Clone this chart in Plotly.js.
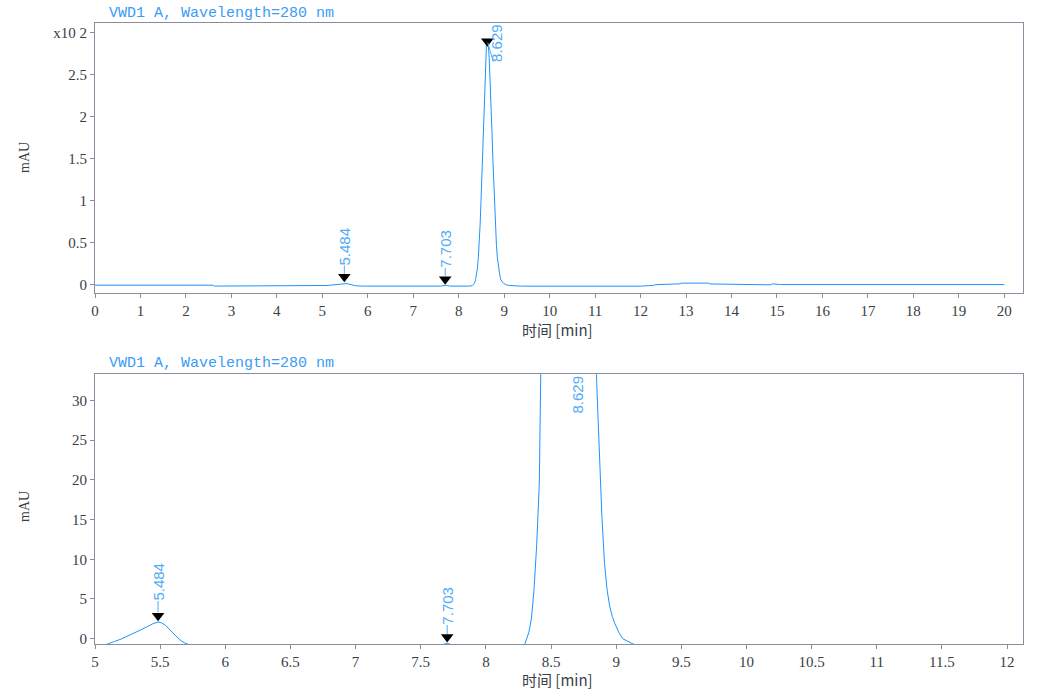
<!DOCTYPE html>
<html>
<head>
<meta charset="utf-8">
<script src="https://cdn.plot.ly/plotly-3.0.1.min.js"></script>
<style>
  html, body { margin: 0; padding: 0; background: #ffffff; }
  #chart { width: 1048px; height: 700px; }
</style>
</head>
<body>
<div id="chart"></div>
<script>
// ---- Data (time in min, signal in mAU) ----
const time = [
  0, 2.6, 2.62,
  4.9, 5.0, 5.05, 5.10, 5.15, 5.20, 5.25, 5.30, 5.35, 5.40, 5.44, 5.484, 5.51, 5.54, 5.57, 5.60, 5.63, 5.66, 5.69, 5.72, 5.76, 5.82, 5.90,
  7.60, 7.65, 7.703, 7.75, 7.80,
  8.25, 8.28, 8.30, 8.33, 8.35, 8.37, 8.39, 8.41, 8.43, 8.45, 8.47, 8.49, 8.51, 8.53, 8.55, 8.57, 8.59, 8.61, 8.629,
  8.65, 8.67, 8.69, 8.71, 8.73, 8.75, 8.77, 8.79, 8.81, 8.83, 8.85, 8.87, 8.89, 8.91, 8.93, 8.95, 8.97, 8.99,
  9.02, 9.05, 9.09, 9.12, 9.16, 9.22, 9.30, 9.36, 9.40,
  12.00, 12.13, 12.15, 12.29, 12.32, 12.57, 12.62, 12.86, 12.90, 13.20, 13.49, 13.53, 14.00, 14.49, 14.52, 14.85, 14.90, 15.04, 15.08, 20.0
];
const signal = [
  -0.2, -0.2, -1.3,
  -1.3, -1.2, -0.95, -0.6, -0.35, -0.05, 0.3, 0.7, 1.1, 1.5, 1.85, 2.1, 2.0, 1.7, 1.25, 0.7, 0.2, -0.25, -0.55, -0.75, -1.0, -1.2, -1.3,
  -1.3, -0.8, -0.6, -0.8, -1.3,
  -1.3, -1.0, -0.6, 0.8, 2.6, 6.3, 11.8, 19.5, 31.4, 48.3, 70.9, 99.2, 132.4, 168.9, 206.1, 240.3, 268.0, 285.8, 292.0,
  286.0, 270.6, 247.0, 217.5, 184.8, 151.4, 119.7, 91.1, 66.9, 47.2, 32.5, 23.5, 15.5, 9.6, 6.2, 4.1, 2.8, 1.9,
  0.8, 0.0, -0.4, -0.6, -0.85, -1.05, -1.2, -1.3, -1.4,
  -1.4, -1.3, -0.5, -0.4, 0.3, 0.5, 1.2, 1.4, 2.2, 2.4, 2.2, 1.2, 1.1, 1.0, 0.2, 0.2, 1.3, 1.2, 0.5, 0.5
];
const peakTimes = [5.484, 7.703, 8.629];
const peakLabels = ['5.484', '7.703', '8.629'];
const topYTickVals = [0, 50, 100, 150, 200, 250, 300];
const topYTickText = ['0', '0.5', '1', '1.5', '2', '2.5', 'x10 2'];
const signalTitle = 'VWD1 A, Wavelength=280 nm';
const xTitle = '时间 [min]';
const yTitle = 'mAU';

// ---- Styling / layout geometry ----
const W = 1048, H = 700;
const LINE = '#1f93fb';
const LABEL = '#52abf7';
const AXIS = '#8a8d9e';
const TICKC = '#3a3d45';
const xDom = [95 / W, 1022.7 / W];
const topPx = [23.3, 293.3], botPx = [374.3, 644];
const yDomTop = [1 - topPx[1] / H, 1 - topPx[0] / H];
const yDomBot = [1 - botPx[1] / H, 1 - botPx[0] / H];
const xRangeTop = [0, 20.405];
const xRangeBot = [5, 12.12];
const yRangeTop = [-9.9, 311.5];
const yRangeBot = [-0.67, 33.3];
const upxTop = (yRangeTop[1] - yRangeTop[0]) / (topPx[1] - topPx[0]);
const upxBot = (yRangeBot[1] - yRangeBot[0]) / (botPx[1] - botPx[0]);

const mSize = 11;
const rt = (mSize / 2) * 2 / Math.sqrt(3); // distance centre->tip of triangle-down
const tipOffTop = [0, 0, -8];
const tipOffBot = [0, 0, 0];

const peakH = peakTimes.map(t => signal[time.indexOf(t)]);

const traces = [
  { x: time, y: signal, xaxis: 'x', yaxis: 'y', type: 'scatter', mode: 'lines',
    line: { color: LINE, width: 1 }, hoverinfo: 'skip' },
  { x: time, y: signal, xaxis: 'x2', yaxis: 'y2', type: 'scatter', mode: 'lines',
    line: { color: LINE, width: 1 }, hoverinfo: 'skip' },
  { x: peakTimes, y: peakH.map((h, i) => h + (rt + tipOffTop[i]) * upxTop), xaxis: 'x', yaxis: 'y',
    type: 'scatter', mode: 'markers', cliponaxis: true,
    marker: { symbol: 'triangle-down', size: mSize, color: '#000000', line: { width: 0 } }, hoverinfo: 'skip' },
  { x: peakTimes, y: peakH.map((h, i) => h + (rt + tipOffBot[i]) * upxBot), xaxis: 'x2', yaxis: 'y2',
    type: 'scatter', mode: 'markers', cliponaxis: true,
    marker: { symbol: 'triangle-down', size: mSize, color: '#000000', line: { width: 0 } }, hoverinfo: 'skip' }
];

const tickFont = { family: 'Liberation Serif, DejaVu Serif, serif', size: 15, color: TICKC };
const axBase = {
  showline: true, mirror: true, linecolor: AXIS, linewidth: 1,
  showgrid: false, zeroline: false, ticks: 'outside', ticklen: 4, tickcolor: AXIS, tickwidth: 1,
  tickfont: tickFont, fixedrange: true
};

const labelFont = { family: 'Liberation Sans, Arial, sans-serif', size: 15, color: LABEL };
const annotations = [];
// top panel labels
[[0, -37], [1, -37]].forEach(([i, ay]) => {
  annotations.push({ xref: 'x', yref: 'y', x: peakTimes[i], y: peakH[i], text: peakLabels[i], textangle: -90,
    showarrow: true, arrowhead: 0, arrowwidth: 1, arrowcolor: LABEL, ax: 0, ay: ay, standoff: 9.5,
    font: labelFont, borderpad: 0 });
});
annotations.push({ xref: 'x', yref: 'y domain', x: peakTimes[2], y: 1, yanchor: 'top', xanchor: 'center',
  xshift: 9.3, text: peakLabels[2], textangle: -90, showarrow: false, font: labelFont, borderpad: 0 });
// bottom panel labels
[[0, -40.5], [1, -38]].forEach(([i, ay]) => {
  annotations.push({ xref: 'x2', yref: 'y2', x: peakTimes[i], y: peakH[i], text: peakLabels[i], textangle: -90,
    showarrow: true, arrowhead: 0, arrowwidth: 1, arrowcolor: LABEL, ax: 0, ay: ay, standoff: 9.5,
    font: labelFont, borderpad: 0 });
});
annotations.push({ xref: 'x2', yref: 'y2 domain', x: peakTimes[2], y: 1, yanchor: 'top', xanchor: 'center',
  xshift: 9.4, text: peakLabels[2], textangle: -90, showarrow: false, font: labelFont, borderpad: 0 });

// titles
const titleFont = { family: 'Liberation Mono, DejaVu Sans Mono, monospace', size: 15, color: '#3a9cf6' };
annotations.push({ xref: 'paper', yref: 'paper', x: 107 / W, y: 1 - 13 / H, xanchor: 'left', yanchor: 'middle',
  text: signalTitle, showarrow: false, font: titleFont });
annotations.push({ xref: 'paper', yref: 'paper', x: 107 / W, y: 1 - 363 / H, xanchor: 'left', yanchor: 'middle',
  text: signalTitle, showarrow: false, font: titleFont });
const xtFont = { family: 'Noto Sans CJK SC, sans-serif', size: 15, color: '#3a3d45' };
annotations.push({ xref: 'paper', yref: 'paper', x: 557 / W, y: 1 - 329 / H, xanchor: 'center', yanchor: 'middle',
  text: xTitle, showarrow: false, font: xtFont });
annotations.push({ xref: 'paper', yref: 'paper', x: 557 / W, y: 1 - 679 / H, xanchor: 'center', yanchor: 'middle',
  text: xTitle, showarrow: false, font: xtFont });
const ytFont = { family: 'Liberation Serif, DejaVu Serif, serif', size: 14, color: '#3a3d45' };
annotations.push({ xref: 'paper', yref: 'paper', x: 24 / W, y: 1 - 158 / H, xanchor: 'center', yanchor: 'middle',
  text: yTitle, textangle: -90, showarrow: false, font: ytFont });
annotations.push({ xref: 'paper', yref: 'paper', x: 24 / W, y: 1 - 507 / H, xanchor: 'center', yanchor: 'middle',
  text: yTitle, textangle: -90, showarrow: false, font: ytFont });

const shapes = [
  // slanted leader of the main peak label (top panel)
  { type: 'line', xref: 'x', yref: 'y', xsizemode: 'pixel', ysizemode: 'pixel',
    xanchor: peakTimes[2], yanchor: peakH[2], x0: 0.5, x1: 6, y0: -3, y1: -22,
    line: { color: LABEL, width: 1 } }
];

const layout = {
  width: W, height: H,
  margin: { l: 0, r: 0, t: 0, b: 0 },
  paper_bgcolor: '#ffffff', plot_bgcolor: '#ffffff',
  showlegend: false,
  xaxis: Object.assign({}, axBase, { domain: xDom, anchor: 'y', range: xRangeTop, tickmode: 'linear', tick0: 0, dtick: 1 }),
  yaxis: Object.assign({}, axBase, { domain: yDomTop, anchor: 'x', range: yRangeTop, tickmode: 'array',
    tickvals: topYTickVals, ticktext: topYTickText }),
  xaxis2: Object.assign({}, axBase, { domain: xDom, anchor: 'y2', range: xRangeBot, tickmode: 'linear', tick0: 5, dtick: 0.5 }),
  yaxis2: Object.assign({}, axBase, { domain: yDomBot, anchor: 'x2', range: yRangeBot, tickmode: 'linear', tick0: 0, dtick: 5 }),
  annotations: annotations,
  shapes: shapes
};

Plotly.newPlot('chart', traces, layout, { displayModeBar: false, staticPlot: true });
</script>
</body>
</html>
